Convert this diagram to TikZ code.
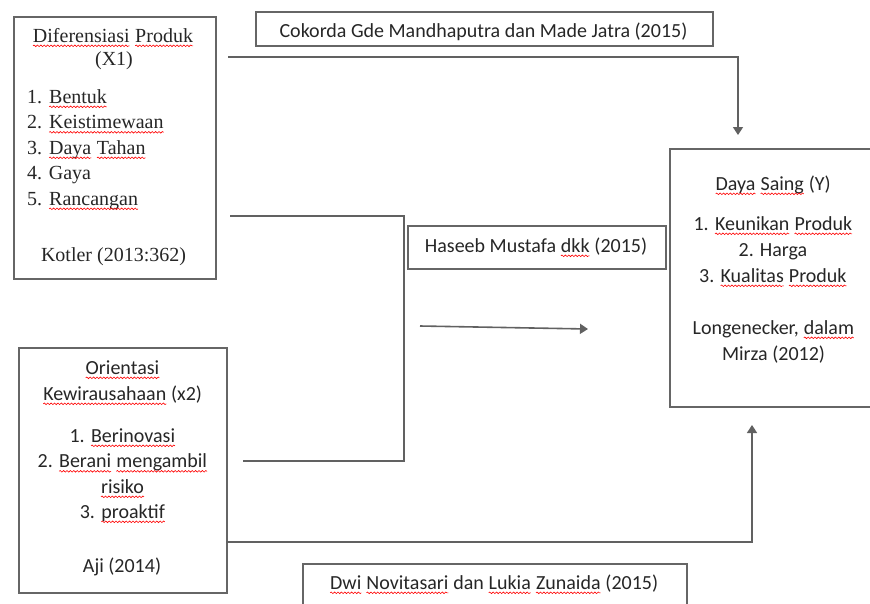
\documentclass[tikz,border=0pt]{standalone}
\usepackage{fontspec}
\setmainfont{Liberation Serif}
\newfontfamily\calibrifont{Carlito}
\usetikzlibrary{arrows.meta,decorations.pathmorphing}
\tikzset{
  sqline/.style={draw=red, line width=0.6pt, decorate,
    decoration={snake, amplitude=0.8pt, segment length=3.4pt}}
}
\newcommand\sq[1]{\tikz[baseline=(sqw.base)]{\node[inner sep=0pt,outer sep=0pt,anchor=base](sqw){#1};\path[sqline]([yshift=-3.8pt]sqw.base west)--([yshift=-3.8pt]sqw.base east);}}
\begin{document}
\begin{tikzpicture}[x=1pt,y=-1pt,
  box/.style={draw=black!60, line width=1.6pt, inner sep=0pt, anchor=north west},
  conn/.style={draw=black!62, line width=1.6pt},
  arr/.style={conn, -{Triangle[width=10pt,length=8pt]}},
  tms/.style={inner sep=0pt, text=black!85, font=\fontsize{20}{24}\selectfont},
  clb/.style={inner sep=0pt, text=black!85, font=\calibrifont\fontsize{20}{24}\selectfont}]
\useasboundingbox (0,0) rectangle (870,603);
\clip (0,0) rectangle (870,603);

% boxes
\node[box, minimum width=202pt, minimum height=262pt] (x1) at (13,16) {};
\node[box, minimum width=208pt, minimum height=245pt] (x2) at (18,347) {};
\node[box, minimum width=215pt, minimum height=258pt] (yb) at (669,148) {};
\node[box, minimum width=457pt, minimum height=34pt] (cok) at (255,11) {};
\node[box, minimum width=258pt, minimum height=43pt] (has) at (407,225) {};
\node[box, minimum width=384pt, minimum height=60pt] (dwi) at (302,563) {};

% X1 text
\node[tms, anchor=base] (x1a) at (113,42) {\sq{Diferensiasi} \sq{Produk}};
\node[tms, anchor=base] (x1b) at (114,65) {(X1)};
\node[tms, anchor=base west] (x1c) at (27,103) {1. \sq{Bentuk}};
\node[tms, anchor=base west] (x1d) at (27,128.5) {2. \sq{Keistimewaan}};
\node[tms, anchor=base west] (x1e) at (27,154) {3. \sq{Daya} \sq{Tahan}};
\node[tms, anchor=base west] (x1f) at (27,179.5) {4. Gaya};
\node[tms, anchor=base west] (x1g) at (27,205) {5. \sq{Rancangan}};
\node[tms, anchor=base] (x1h) at (113.5,261) {Kotler (2013:362)};

% X2 text
\node[clb, anchor=base] (x2a) at (122.5,374) {\sq{Orientasi}};
\node[clb, anchor=base] (x2b) at (122.5,400) {\sq{Kewirausahaan} (x2)};
\node[clb, anchor=base] (x2c) at (122.5,442) {1. \sq{Berinovasi}};
\node[clb, anchor=base] (x2d) at (122.5,467.5) {2. \sq{Berani} \sq{mengambil}};
\node[clb, anchor=base] (x2e) at (122.5,493) {\sq{risiko}};
\node[clb, anchor=base] (x2f) at (122.5,518) {3. \sq{proaktif}};
\node[clb, anchor=base] (x2g) at (122,572) {Aji (2014)};

% Y text
\node[clb, anchor=base] (ya) at (773,190) {\sq{Daya} \sq{Saing} (Y)};
\node[clb, anchor=base] (yc) at (773,230) {1. \sq{Keunikan} \sq{Produk}};
\node[clb, anchor=base] (yd) at (773,256) {2. Harga};
\node[clb, anchor=base] (ye) at (773,282) {3. \sq{Kualitas} \sq{Produk}};
\node[clb, anchor=base] (yf) at (773.5,334) {Longenecker, \sq{dalam}};
\node[clb, anchor=base] (yg) at (773.5,360) {Mirza (2012)};

% reference boxes text
\node[clb, anchor=base] (cokt) at (483.5,37) {Cokorda Gde Mandhaputra dan Made Jatra (2015)};
\node[clb, anchor=base] (hast) at (536,252) {Haseeb Mustafa \sq{dkk} (2015)};
\node[clb, anchor=base] (dwit) at (494,589) {\sq{Dwi} \sq{Novitasari} dan \sq{Lukia} \sq{Zunaida} (2015)};

% connectors
\coordinate (a1) at (228,57);
\coordinate (a2) at (738,135);
\draw[arr] (a1) -| (a2);

\coordinate (b1) at (230,216);
\coordinate (b2) at (404,216);
\coordinate (b3) at (404,461);
\coordinate (b4) at (243,461);
\draw[conn] (b1) -- (b2) -- (b3) -- (b4);

\coordinate (m1) at (420,326);
\coordinate (m2) at (588,329);
\draw[arr] (m1) -- (m2);

\coordinate (c1) at (226,542);
\coordinate (c2) at (752,425);
\draw[arr] (c1) -| (c2);
\end{tikzpicture}
\end{document}
